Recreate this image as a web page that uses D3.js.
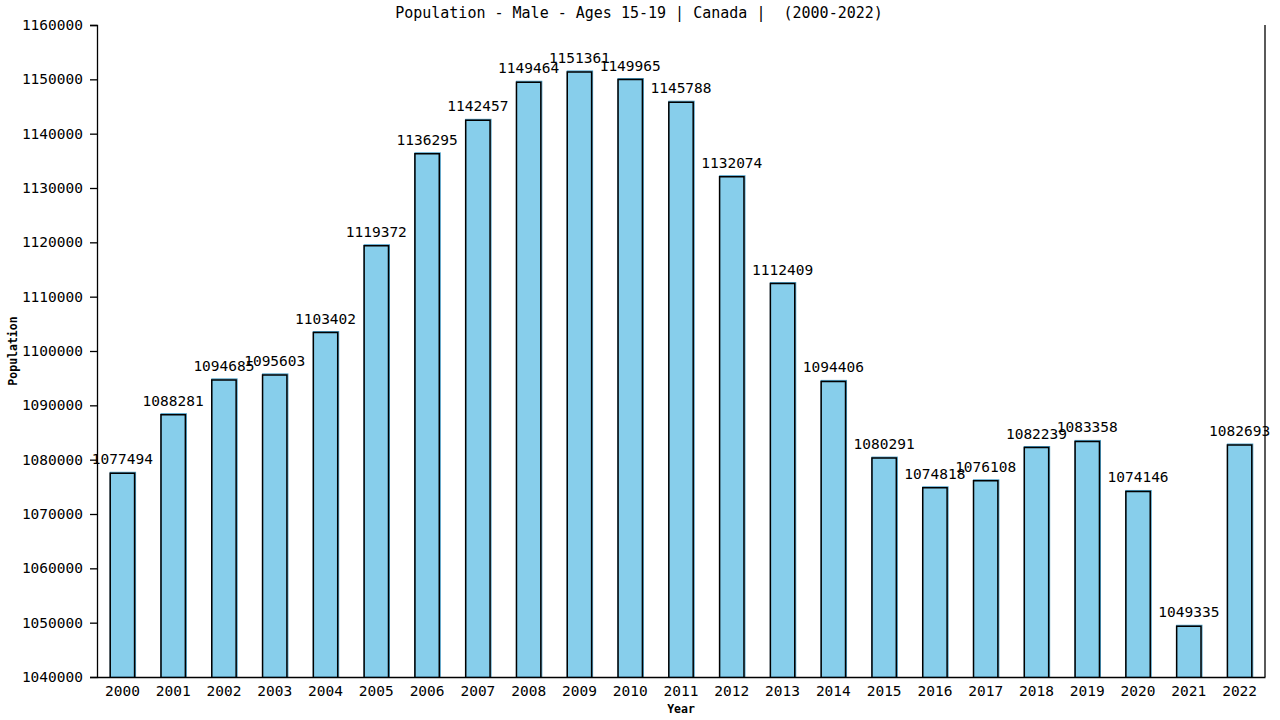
<!DOCTYPE html>
<html>
<head>
<meta charset="utf-8">
<script src="https://cdn.jsdelivr.net/npm/d3@7"></script>
<style>
  body { margin: 0; background: #fff; }
  svg { display: block; }
  text { font-family: "DejaVu Sans Mono", monospace; fill: #000; }
</style>
</head>
<body>
<div id="chart"></div>
<script>
const years = ["2000","2001","2002","2003","2004","2005","2006","2007","2008","2009","2010","2011",
               "2012","2013","2014","2015","2016","2017","2018","2019","2020","2021","2022"];
const population = [1077494,1088281,1094685,1095603,1103402,1119372,1136295,1142457,1149464,1151361,1149965,1145788,
                    1132074,1112409,1094406,1080291,1074818,1076108,1082239,1083358,1074146,1049335,1082693];
const yTicks = [1040000,1050000,1060000,1070000,1080000,1090000,1100000,1110000,1120000,1130000,1140000,1150000,1160000];

const width = 1280, height = 720;
const margin = { top: 25, right: 15, bottom: 43, left: 97 };

const svg = d3.select("#chart").append("svg")
    .attr("width", width)
    .attr("height", height);

const x = d3.scaleBand()
    .domain(years)
    .range([margin.left, width - margin.right])
    .paddingInner(0.52)
    .paddingOuter(0.26);

const y = d3.scaleLinear()
    .domain([1040000, 1160000])
    .range([height - margin.bottom, margin.top]);

const base = y(1040000);

// title (double space kept)
svg.append("text")
    .attr("x", 639)
    .attr("y", 18)
    .attr("text-anchor", "middle")
    .style("font-size", "15px")
    .style("white-space", "pre")
    .attr("xml:space", "preserve")
    .text("Population - Male - Ages 15-19 | Canada |  (2000-2022)");

// bars
const bars = svg.append("g").selectAll("g")
    .data(years.map((yr, i) => ({ year: yr, value: population[i] })))
    .join("g");

bars.append("rect")
    .attr("x", d => x(d.year))
    .attr("y", d => y(d.value) - 1)
    .attr("width", x.bandwidth() + 1)
    .attr("height", d => base - y(d.value) + 1)
    .attr("fill", "#87ceeb")
    .attr("stroke", "#4a9cc4")
    .attr("stroke-width", 1);

bars.append("path")
    .attr("d", d => `M${x(d.year)},${base}V${y(d.value)}H${x(d.year) + x.bandwidth()}V${base}`)
    .attr("fill", "none")
    .attr("stroke", "#000")
    .attr("stroke-width", 1.5);

bars.append("text")
    .attr("x", d => x(d.year) + x.bandwidth() / 2)
    .attr("y", d => y(d.value) - 9)
    .attr("text-anchor", "middle")
    .style("font-size", "14.5px")
    .text(d => d.value);

// y axis
const yAxis = svg.append("g")
    .attr("transform", `translate(${margin.left},0)`)
    .call(d3.axisLeft(y).tickValues(yTicks).tickFormat(d3.format("d")).tickSize(7).tickPadding(7));
yAxis.select(".domain").attr("stroke", "#000").attr("stroke-width", 1.3);
yAxis.selectAll(".tick line").attr("stroke", "#000").attr("stroke-width", 1.3);
yAxis.selectAll("text")
    .style("font-size", "14.5px")
    .style("font-family", "'DejaVu Sans Mono', monospace")
    .attr("fill", "#000");

// x axis
const xAxis = svg.append("g")
    .attr("transform", `translate(0,${base})`)
    .call(d3.axisBottom(x).tickSize(0).tickPadding(9));
xAxis.select(".domain").attr("stroke", "#000").attr("stroke-width", 1.3);
xAxis.selectAll("text")
    .style("font-size", "14.5px")
    .style("font-family", "'DejaVu Sans Mono', monospace")
    .attr("fill", "#000");

// right border
svg.append("line")
    .attr("x1", width - margin.right).attr("x2", width - margin.right)
    .attr("y1", margin.top).attr("y2", base)
    .attr("stroke", "#000")
    .attr("stroke-width", 1.3);

// axis titles
svg.append("text")
    .attr("transform", `translate(17,${(margin.top + base) / 2}) rotate(-90)`)
    .attr("text-anchor", "middle")
    .style("font-size", "11.5px")
    .style("font-weight", "bold")
    .text("Population");

svg.append("text")
    .attr("x", (margin.left + width - margin.right) / 2)
    .attr("y", 713)
    .attr("text-anchor", "middle")
    .style("font-size", "11.5px")
    .style("font-weight", "bold")
    .text("Year");
</script>
</body>
</html>
